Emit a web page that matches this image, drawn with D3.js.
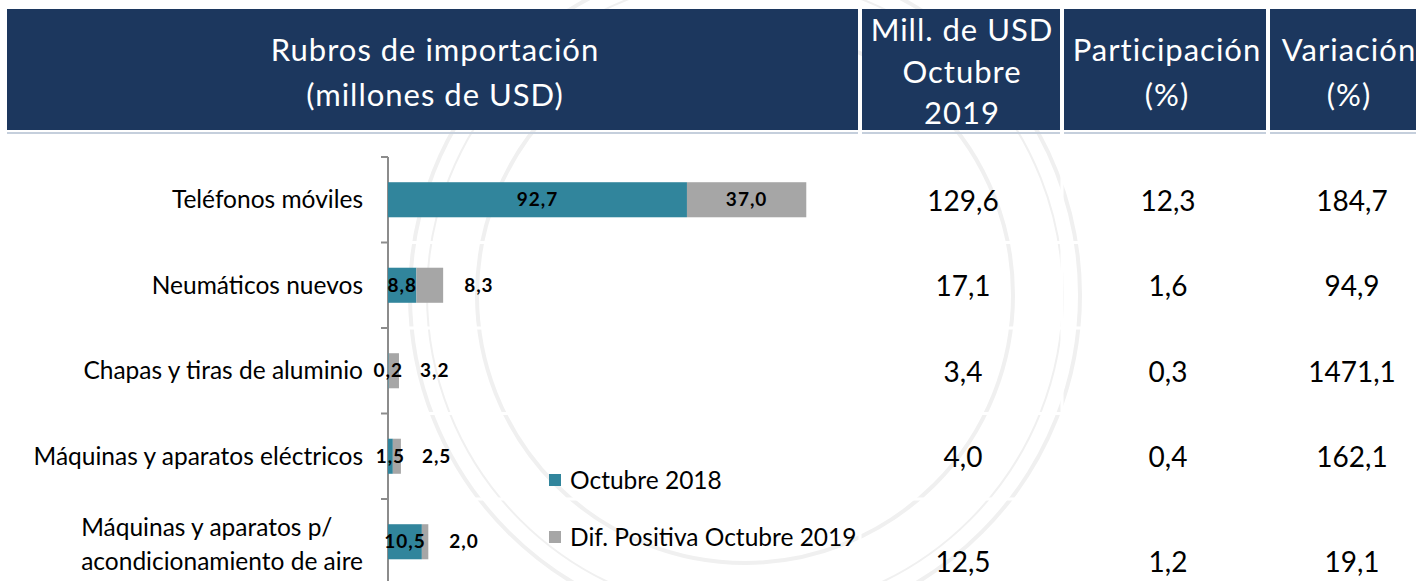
<!DOCTYPE html>
<html><head><meta charset="utf-8">
<script src="https://cdn.jsdelivr.net/npm/d3@7"></script>
<style>html,body{margin:0;padding:0;background:#fff;overflow:hidden} svg{display:block;font-family:Lato,"Open Sans",sans-serif;}</style>
</head><body><svg id="c" width="1416" height="581"></svg>
<script>
// ---- data ----
const categories = ["Teléfonos móviles","Neumáticos nuevos","Chapas y tiras de aluminio","Máquinas y aparatos eléctricos","Máquinas y aparatos p/\nacondicionamiento de aire"];
const oct2018 = [92.7, 8.8, 0.2, 1.5, 10.5];
const difPositiva = [37.0, 8.3, 3.2, 2.5, 2.0];
const millUSD2019 = [129.6, 17.1, 3.4, 4.0, 12.5];
const participacion = [12.3, 1.6, 0.3, 0.4, 1.2];
const variacion = [184.7, 94.9, 1471.1, 162.1, 19.1];
const seriesNames = ["Octubre 2018","Dif. Positiva Octubre 2019"];
const headerTitle = ["Rubros de importación","(millones de USD)"];
const headerCols = [["Mill. de USD","Octubre","2019"],["Participación","(%)"],["Variación","(%)"]];

// ---- layout ----
const W = 1416, H = 581;
const colors = ["#31859c", "#a6a6a6"];
const navy = "#1c375e";
const svg = d3.select("#c");
const fmt = v => d3.format(".1f")(v).replace(".", ",");

// watermark (faint seal)
const wm = svg.append("g").attr("fill","none").attr("stroke","#f0f0f0");
[[335,4],[318,2],[268,4]].forEach(([r,w]) => wm.append("circle").attr("cx",745).attr("cy",295).attr("r",r).attr("stroke-width",w));

// header cells
const cells = [[7,858],[862,1060],[1064,1266],[1270,1430]];
const hdr = svg.append("g");
cells.forEach(([x0,x1]) => {
  hdr.append("rect").attr("x",x0).attr("y",9).attr("width",x1-x0).attr("height",121).attr("fill",navy);
  hdr.append("rect").attr("x",x0).attr("y",132).attr("width",x1-x0).attr("height",2).attr("fill","#c5cfdc");
});
const hText = (x, ys, lines) => lines.forEach((t,i) => hdr.append("text").attr("x",x).attr("y",ys[i]).attr("dy","0.35em")
  .attr("text-anchor","middle").attr("fill","#fff").attr("font-size",31).attr("letter-spacing","1px").text(t));
hText(435, [50,95], headerTitle);
hText(962, [30,72,113], headerCols[0]);
hText(1167, [50,95], headerCols[1]);
hText(1349, [50,95], headerCols[2]);

// scales
const y = d3.scaleBand().domain(d3.range(categories.length)).range([157, 157 + 5*85.5]).paddingInner(0.59).paddingOuter(0.295);
const x = d3.scaleLinear().domain([0, 130]).range([388, 388 + 130*3.225]);
const step = y.step();
const boundaries = d3.range(categories.length).map(i => 157 + i*step);

// white separators (visible over watermark)
const sep = svg.append("g").attr("stroke","#fff").attr("stroke-width",3);
boundaries.slice(1).forEach(b => sep.append("line").attr("x1",7).attr("x2",W).attr("y1",b).attr("y2",b));
[860,1062,1268].forEach(v => sep.append("line").attr("x1",v).attr("x2",v).attr("y1",134).attr("y2",H));

// axis
const ax = svg.append("g").attr("stroke","#8c8c8c").attr("stroke-width",2);
ax.append("line").attr("x1",x(0)).attr("x2",x(0)).attr("y1",157).attr("y2",H);
boundaries.forEach(b => ax.append("line").attr("x1",x(0)-7).attr("x2",x(0)).attr("y1",b).attr("y2",b));

// stacked bars
const stacked = categories.map((c,i) => ({i, a: oct2018[i], b: difPositiva[i]}));
const bars = svg.append("g");
bars.selectAll(".s0").data(stacked).join("rect").attr("x", d=>x(0)).attr("y", d=>y(d.i))
  .attr("width", d=>x(d.a)-x(0)).attr("height", y.bandwidth()).attr("fill", colors[0]);
bars.selectAll(".s1").data(stacked).join("rect").attr("x", d=>x(d.a)).attr("y", d=>y(d.i))
  .attr("width", d=>x(d.a+d.b)-x(d.a)).attr("height", y.bandwidth()).attr("fill", colors[1]);

// data labels
const lbl = svg.append("g").attr("font-weight","bold").attr("font-size",19).attr("fill","#000").attr("letter-spacing","1px");
stacked.forEach(d => {
  const cy = y(d.i) + y.bandwidth()/2;
  lbl.append("text").attr("x",(x(0)+x(d.a))/2).attr("y",cy).attr("dy","0.35em").attr("text-anchor","middle").text(fmt(d.a));
  const w = x(d.a+d.b)-x(d.a);
  if (w > 60) lbl.append("text").attr("x",(x(d.a)+x(d.a+d.b))/2).attr("y",cy).attr("dy","0.35em").attr("text-anchor","middle").text(fmt(d.b));
  else lbl.append("text").attr("x",x(d.a+d.b)+21).attr("y",cy).attr("dy","0.35em").attr("text-anchor","start").text(fmt(d.b));
});

// category labels
const cat = svg.append("g").attr("font-size",24.5).attr("fill","#000");
categories.forEach((c,i) => {
  const cy = y(i) + y.bandwidth()/2;
  const lines = c.split("\n");
  if (lines.length === 1) {
    cat.append("text").attr("x",363).attr("y",cy).attr("dy","0.35em").attr("text-anchor","end").text(c);
  } else {
    const ts = lines.map((t,k) => cat.append("text").attr("y", cy - 14 + k*34).attr("dy","0.35em").text(t));
    const wmax = d3.max(ts, t => t.node().getComputedTextLength());
    ts.forEach(t => t.attr("x", 363 - wmax));
  }
});

// table values
const tbl = svg.append("g").attr("font-size",28).attr("fill","#000").attr("text-anchor","middle");
const rowY = i => y(i) + y.bandwidth()/2 + (i === categories.length-1 ? 20 : 1);
[[millUSD2019,963],[participacion,1168],[variacion,1352]].forEach(([arr,cx]) => {
  arr.forEach((v,i) => tbl.append("text").attr("x",cx).attr("y",rowY(i)).attr("dy","0.35em").text(fmt(v)));
});

// legend
const lg = svg.append("g").attr("font-size",24.5);
seriesNames.forEach((s,k) => {
  const ly = 480 + k*57;
  lg.append("rect").attr("x",549).attr("y",ly-6).attr("width",12).attr("height",12).attr("fill",colors[k]);
  lg.append("text").attr("x",570).attr("y",ly).attr("dy","0.35em").text(s);
});
</script></body></html>
